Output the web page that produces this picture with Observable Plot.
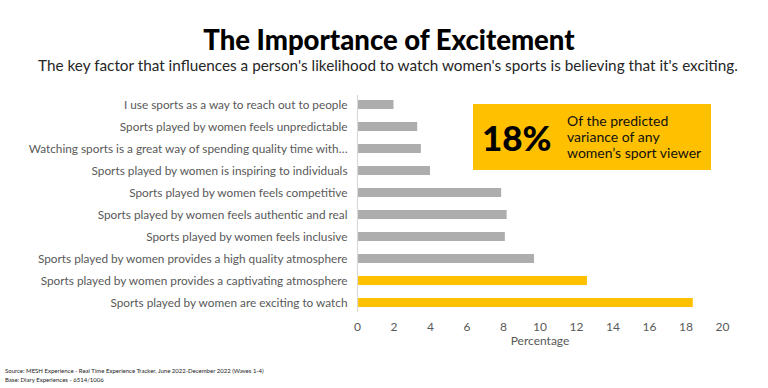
<!DOCTYPE html>
<html>
<head>
<meta charset="utf-8">
<script src="https://cdn.jsdelivr.net/npm/d3@7"></script>
<script src="https://cdn.jsdelivr.net/npm/@observablehq/plot@0.6"></script>
<style>
  html, body { margin: 0; padding: 0; background: #fff; }
  #wrap { position: relative; width: 768px; height: 388px; overflow: hidden; font-family: Lato, "Open Sans", sans-serif; }
  #header { height: 88px; position: relative; }
  #title { position: absolute; left: 0; width: 768px; top: 25px; text-align: center; font-size: 27.5px; font-weight: 900; color: #000; line-height: 30px; padding-left: 10px; box-sizing: border-box; }
  #subtitle { position: absolute; left: 0; width: 768px; top: 55px; text-align: center; font-size: 15.3px; color: #262626; line-height: 20px; padding-left: 8px; box-sizing: border-box; }
  #source { position: absolute; left: 5px; top: 367px; font-size: 6px; line-height: 8.5px; color: #222; }
  #callout { position: absolute; left: 473px; top: 104px; width: 238px; height: 66px; background: #FFC000; }
  #callout .big { position: absolute; left: 9px; top: 14px; font-size: 35px; font-weight: 900; line-height: 38px; color: #000; }
  #callout .txt { position: absolute; left: 94px; top: 9px; font-size: 14px; line-height: 16px; color: #111; }
</style>
</head>
<body>
<div id="wrap">
  <div id="header">
    <div id="title">The Importance of Excitement</div>
    <div id="subtitle">The key factor that influences a person's likelihood to watch women's sports is believing that it's exciting.</div>
  </div>
  <div id="chart"></div>
  <div id="callout"><div class="big">18%</div><div class="txt">Of the predicted<br>variance of any<br>women’s sport viewer</div></div>
  <div id="source">Source: MESH Experience - Real Time Experience Tracker, June 2022-December 2022 (Waves 1-4)<br>Base: Diary Experiences - 6514/1006</div>
</div>
<script>
const categories = [
  "I use sports as a way to reach out to people",
  "Sports played by women feels unpredictable",
  "Watching sports is a great way of spending quality time with…",
  "Sports played by women is inspiring to individuals",
  "Sports played by women feels competitive",
  "Sports played by women feels authentic and real",
  "Sports played by women feels inclusive",
  "Sports played by women provides a high quality atmosphere",
  "Sports played by women provides a captivating atmosphere",
  "Sports played by women are exciting to watch"
];
const values = [2.0, 3.3, 3.5, 4.0, 7.9, 8.2, 8.1, 9.7, 12.6, 18.4];
const highlighted = [false, false, false, false, false, false, false, false, true, true];
const xTicks = [0, 2, 4, 6, 8, 10, 12, 14, 16, 18, 20];

const data = categories.map((c, i) => ({category: c, value: values[i], hi: highlighted[i]}));

const chart = Plot.plot({
  width: 768,
  height: 270,
  marginLeft: 357,
  marginRight: 46,
  marginTop: 7,
  marginBottom: 46,
  style: { fontFamily: "Lato, 'Open Sans', sans-serif", background: "transparent" },
  x: { domain: [0, 20], ticks: xTicks, label: "Percentage", labelAnchor: "center", labelArrow: "none" },
  y: { domain: categories, paddingInner: 0.6, paddingOuter: 0.2, label: null },
  marks: [
    Plot.barX(data, { x: "value", y: "category", fill: d => d.hi ? "#FFC000" : "#ADADAD" }),
    Plot.ruleX([0], { stroke: "#D9D9D9", strokeWidth: 1.2 }),
    Plot.axisY({ tickSize: 0, tickPadding: 10, fontSize: 11.8, color: "#595959", label: null }),
    Plot.axisX({ ticks: xTicks, tickSize: 0, tickPadding: 10, fontSize: 12, color: "#595959", label: "Percentage", labelAnchor: "center", labelArrow: "none", labelOffset: 32 })
  ]
});
document.getElementById("chart").appendChild(chart);
</script>
</body>
</html>
